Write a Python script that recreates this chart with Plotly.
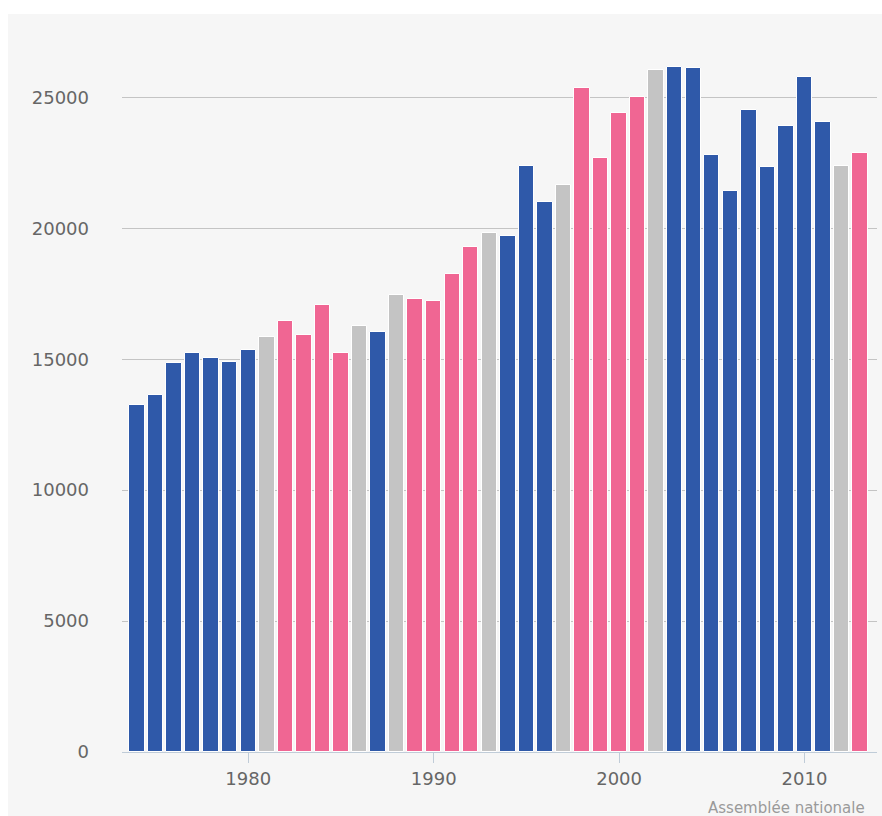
import plotly.graph_objects as go

# Années et nombre de textes (valeurs annuelles)
annees = list(range(1974, 2014))
valeurs = [
    13250, 13650, 14840, 15240, 15030, 14900, 15370,   # 1974-1980
    15850, 16470, 15920, 17090, 15240, 16260, 16050,   # 1981-1987
    17440, 17290, 17240, 18260, 19290, 19840, 19710,   # 1988-1994
    22400, 21010, 21640, 25350, 22670, 24400, 25010,   # 1995-2001
    26040, 26180, 26120, 22810, 21430, 24540, 22340,   # 2002-2008
    23920, 25780, 24070, 22400, 22870,                 # 2009-2013
]
# d = majorité de droite, g = majorité de gauche, e = année d'élection
periode = list("ddddddd" "egggg" "edegggge" "dddegggg" "eddddddddd" "eg")

couleurs = {"d": "#2f59a9", "g": "#f06693", "e": "#c4c4c4"}
tick_annees = [1980, 1990, 2000, 2010]
tick_y = [0, 5000, 10000, 15000, 20000, 25000]

fig = go.Figure(
    go.Bar(
        x=annees,
        y=valeurs,
        width=0.83,
        marker=dict(
            color=[couleurs[p] for p in periode],
            line=dict(color="#ffffff", width=1),
        ),
        hovertemplate="%{x} : %{y}<extra></extra>",
    )
)

police = "DejaVu Sans, Verdana, sans-serif"

fig.update_layout(
    width=882,
    height=816,
    margin=dict(l=122, r=5, t=32, b=64),
    paper_bgcolor="#ffffff",
    plot_bgcolor="#f6f6f6",
    showlegend=False,
    bargap=0,
    shapes=[
        dict(
            type="rect", xref="paper", yref="paper",
            x0=-0.151, x1=1.01, y0=-0.09, y1=1.025,
            fillcolor="#f6f6f6", line=dict(width=0), layer="below",
        )
    ],
    annotations=[
        dict(
            text="Assemblée nationale",
            xref="paper", yref="paper",
            x=0.9868, y=-0.078,
            xanchor="right", yanchor="middle",
            showarrow=False,
            font=dict(family=police, size=15, color="#9a9a9a"),
        )
    ],
)

fig.update_xaxes(
    range=[1973.19, 2013.91],
    tickvals=tick_annees,
    ticktext=[str(a) for a in tick_annees],
    ticks="outside",
    ticklen=10,
    tickcolor="#c0ccd8",
    showgrid=False,
    showline=True,
    linecolor="#c0ccd8",
    linewidth=1,
    zeroline=False,
    tickfont=dict(family=police, size=18, color="#666666"),
)

fig.update_yaxes(
    range=[0, 27500],
    tickvals=tick_y,
    ticktext=[str(v) for v in tick_y],
    showgrid=True,
    gridcolor="#c4c4c4",
    gridwidth=1,
    zeroline=False,
    showline=False,
    ticklabelstandoff=32,
    tickfont=dict(family=police, size=18, color="#666666"),
)

fig.write_html("out.html")
